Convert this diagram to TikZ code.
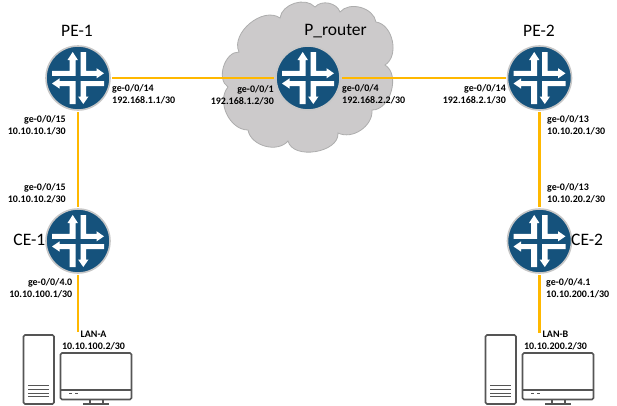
\documentclass[tikz,border=0pt]{standalone}
\usepackage{fontspec}
\setmainfont{Carlito}
\usepackage{tikz}
\definecolor{routerblue}{RGB}{21,82,124}
\definecolor{linkgold}{RGB}{255,184,0}
\definecolor{cloudgrey}{RGB}{204,202,203}
\definecolor{pcgrey}{RGB}{85,85,85}
\begin{document}
\begin{tikzpicture}[x=1pt,y=-1pt,
  routernode/.style={circle, draw=black!22, line width=1.6pt, fill=routerblue, minimum size=64pt, inner sep=0pt, outer sep=2pt,
    path picture={\begin{scope}[shift={(path picture bounding box.center)}]
      \fill[white] (-26,-7.2) -- (-8.3,-7.2) -- (-8.3,-18) -- (-10.5,-18) -- (-5.3,-26) -- (-0.1,-18) -- (-2.3,-18) -- (-2.3,-2.2) -- (-26,-2.2) -- cycle;
      \fill[white] (2.7,-26) -- (8,-26) -- (8,-7.2) -- (18.5,-7.2) -- (18.5,-9.8) -- (26,-4.7) -- (18.5,0.4) -- (18.5,-2.2) -- (2.7,-2.2) -- cycle;
      \fill[white] (-26,5.5) -- (-18.5,0.4) -- (-18.5,3) -- (-2.3,3) -- (-2.3,26) -- (-8.3,26) -- (-8.3,8) -- (-18.5,8) -- (-18.5,10.6) -- cycle;
      \fill[white] (26,3) -- (26,8) -- (8,8) -- (8,18.5) -- (10.5,18.5) -- (5.3,26) -- (0.1,18.5) -- (2.7,18.5) -- (2.7,3) -- cycle;
    \end{scope}}},
  link/.style={linkgold, line width=2.8pt},
  title/.style={font=\fontsize{17.5}{20}\selectfont, inner sep=0pt},
  iflabel/.style={font=\fontsize{10}{12}\selectfont\bfseries, inner sep=0pt},
  leftlabel/.style={iflabel, align=left, anchor=west},
  rightlabel/.style={iflabel, align=right, anchor=east},
  lanlabel/.style={iflabel, align=center},
  pcline/.style={pcgrey, line width=1.6pt, rounded corners=1.5pt},
  pics/hostpc/.style={code={
    \draw[pcline] (23.5,335) rectangle (54,404);
    \foreach \y in {385,389,393,396} \draw[pcgrey, line width=1pt] (28,\y) -- (49,\y);
    \draw[pcline] (60.5,353) rectangle (131.5,399.5);
    \draw[pcgrey, line width=1.2pt] (60.5,390) -- (131.5,390);
    \draw[pcgrey, line width=.8pt] (69,393.5) -- (72,393.5) (75,393.5) -- (78,393.5);
    \draw[pcgrey, line width=1.4pt] (90,399.5) -- (90,404) (103,399.5) -- (103,404);
    \draw[pcgrey, line width=1.6pt] (83,404) -- (109,404);
  }}
]
\useasboundingbox (0,0) rectangle (617,405);

% cloud behind the P router
\draw[fill=cloudgrey, draw=black!32, line width=.8pt]
  (239,52) to[bend left=75] (280,18) to[bend left=65] (315,7) to[bend left=60] (340,12)
  to[bend left=65] (376,22) to[bend left=70] (385,65) to[bend left=75] (372,110)
  to[bend left=60] (338,133) to[bend left=85] (288,141) to[bend left=65] (248,130)
  to[bend left=65] (228,87) to[bend left=75] cycle;

% routers
\node[routernode] (pe1) at (78,78) {};
\node[routernode] (prouter) at (308,78) {};
\node[routernode] (pe2) at (539.5,78) {};
\node[routernode] (ce1) at (78,241) {};
\node[routernode] (ce2) at (539.5,241) {};

\node[title] (pe1name) at (77,31) {PE-1};
\node[title] (pname) at (335.5,31) {P\_router};
\node[title] (pe2name) at (539,31) {PE-2};
\node[title, anchor=east] (ce1name) at (45.5,240) {CE-1};
\node[title, anchor=west] (ce2name) at (571,240) {CE-2};

% links
\coordinate (lana) at (78,332);
\coordinate (lanb) at (539.5,333);
\draw[link] (pe1.east) -- (prouter.west);
\draw[link] (prouter.east) -- (pe2.west);
\draw[link] (pe1.south) -- (ce1.north);
\draw[link] (pe2.south) -- (ce2.north);
\draw[link] (ce1.south) -- (lana);
\draw[link] (ce2.south) -- (lanb);

% interface labels
\node[leftlabel] (pe1a) at (112,94) {ge-0/0/14\\192.168.1.1/30};
\node[rightlabel] (pa) at (274,95) {ge-0/0/1\\192.168.1.2/30};
\node[leftlabel] (pb) at (342,94) {ge-0/0/4\\192.168.2.2/30};
\node[rightlabel] (pe2a) at (506,94) {ge-0/0/14\\192.168.2.1/30};
\node[rightlabel] (pe1b) at (66,125) {ge-0/0/15\\10.10.10.1/30};
\node[rightlabel] (ce1a) at (66,193) {ge-0/0/15\\10.10.10.2/30};
\node[rightlabel] (ce1b) at (72.5,288) {ge-0/0/4.0\\10.10.100.1/30};
\node[lanlabel] (hosta) at (93.5,340) {LAN-A\\10.10.100.2/30};
\node[leftlabel] (pe2b) at (547,125) {ge-0/0/13\\10.10.20.1/30};
\node[leftlabel] (ce2a) at (547,193) {ge-0/0/13\\10.10.20.2/30};
\node[leftlabel] (ce2b) at (546,288) {ge-0/0/4.1\\10.10.200.1/30};
\node[lanlabel] (hostb) at (555.5,340) {LAN-B\\10.10.200.2/30};

% hosts
\pic (pca) at (0,0) {hostpc};
\pic (pcb) at (462,0) {hostpc};
\end{tikzpicture}
\end{document}
